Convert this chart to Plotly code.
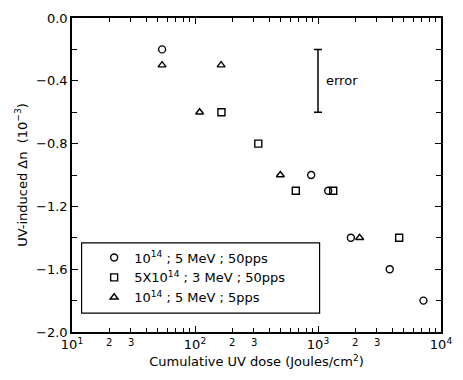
import math
import plotly.graph_objects as go

# ---- data ----
s1_name = "10<sup>14</sup> ; 5 MeV ; 50pps"
s1_x = [54, 880, 1210, 1850, 3830, 7200]
s1_y = [-0.2, -1.0, -1.1, -1.4, -1.6, -1.8]

s2_name = "5X10<sup>14</sup> ; 3 MeV ; 50pps"
s2_x = [164, 327, 660, 1330, 4570]
s2_y = [-0.6, -0.8, -1.1, -1.1, -1.4]

s3_name = "10<sup>14</sup> ; 5 MeV ; 5pps"
s3_x = [54, 109, 163, 494, 2180]
s3_y = [-0.3, -0.6, -0.3, -1.0, -1.4]

err_x = [1000]
err_y = [-0.4]
err_half = [0.2]
err_label = "error"

x_major = [10, 100, 1000, 10000]
x_major_text = ["10<sup>1</sup>", "10<sup>2</sup>", "10<sup>3</sup>", "10<sup>4</sup>"]
x_minor = [m * d for d in (10, 100, 1000) for m in range(2, 10)]
x_small_labels = [20, 30, 200, 300, 2000, 3000]
y_major = [-2.0, -1.6, -1.2, -0.8, -0.4, 0.0]

FONT = "DejaVu Sans"
fig = go.Figure()

for name, xs, ys, sym in [(s1_name, s1_x, s1_y, "circle-open"),
                          (s2_name, s2_x, s2_y, "square-open"),
                          (s3_name, s3_x, s3_y, "triangle-up-open")]:
    fig.add_trace(go.Scatter(
        x=xs, y=ys, mode="markers", name=name,
        marker=dict(symbol=sym, size=7, color="black", line=dict(width=1.4, color="black")),
    ))

fig.add_trace(go.Scatter(
    x=err_x, y=err_y, mode="markers", showlegend=False,
    marker=dict(size=1, color="rgba(0,0,0,0)"),
    error_y=dict(type="data", array=err_half, symmetric=True, color="black", thickness=1.5, width=4),
))
fig.add_annotation(x=math.log10(err_x[0]), y=err_y[0], xref="x", yref="y", text=err_label,
                   showarrow=False, xanchor="left", xshift=6,
                   font=dict(family=FONT, size=13, color="black"))

for v in x_small_labels:
    fig.add_annotation(x=math.log10(v), y=0, xref="x", yref="paper", text=str(v)[0],
                       showarrow=False, yanchor="top", yshift=-3,
                       font=dict(family=FONT, size=10, color="black"))

# legend frame
fig.add_shape(type="rect", xref="paper", yref="paper", x0=0.026, x1=0.671, y0=0.06, y1=0.284,
              line=dict(color="black", width=1.2), fillcolor="white", layer="above")

axis_common = dict(showline=True, linecolor="black", linewidth=1.5, mirror="ticks",
                   ticks="inside", tickcolor="black", tickwidth=1.2, showgrid=False,
                   zeroline=False, tickfont=dict(family=FONT, size=13, color="black"))

fig.update_xaxes(type="log", range=[1, 4], tickmode="array", tickvals=x_major,
                 ticktext=x_major_text, ticklen=6,
                 minor=dict(tickmode="array", tickvals=x_minor, ticks="inside", ticklen=4,
                            tickcolor="black", tickwidth=1, showgrid=False),
                 title=dict(text="Cumulative UV dose (Joules/cm<sup>2</sup>)",
                            font=dict(family=FONT, size=13, color="black"), standoff=6),
                 **axis_common)
fig.update_yaxes(range=[-2.0, 0.0], tickmode="array", tickvals=y_major, tickformat=".1f",
                 ticklen=6,
                 minor=dict(dtick=0.2, ticks="inside", ticklen=5, tickcolor="black",
                            tickwidth=1.2, showgrid=False),
                 title=dict(text="UV-induced Δn  (10<sup>−3</sup>)",
                            font=dict(family=FONT, size=13, color="black"), standoff=6),
                 **axis_common)

fig.update_layout(
    width=463, height=380,
    margin=dict(l=72, r=11, t=15, b=48),
    paper_bgcolor="white", plot_bgcolor="white",
    font=dict(family=FONT, size=13, color="black"),
    legend=dict(x=0.06, y=0.285, xanchor="left", yanchor="top",
                borderwidth=0, bgcolor="rgba(0,0,0,0)",
                font=dict(family=FONT, size=13, color="black"),
                itemsizing="trace", tracegroupgap=0),
    showlegend=True,
)

fig.write_html("out.html")
